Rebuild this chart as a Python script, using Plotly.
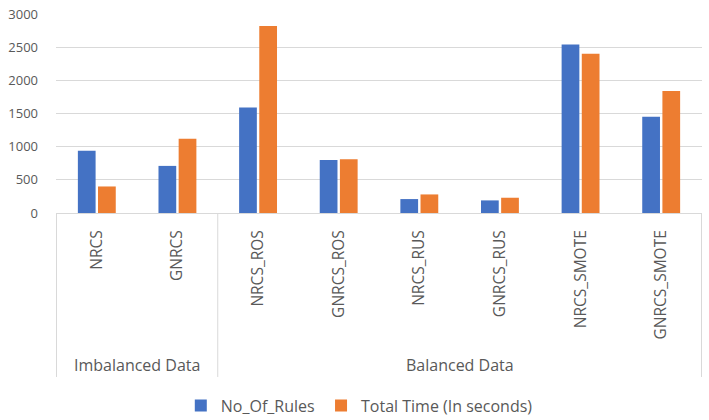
import plotly.graph_objects as go

categories = ["NRCS", "GNRCS", "NRCS_ROS", "GNRCS_ROS", "NRCS_RUS", "GNRCS_RUS", "NRCS_SMOTE", "GNRCS_SMOTE"]
groups = ["Imbalanced Data", "Imbalanced Data", "Balanced Data", "Balanced Data",
          "Balanced Data", "Balanced Data", "Balanced Data", "Balanced Data"]
no_of_rules = [940, 710, 1590, 800, 210, 190, 2540, 1450]
total_time = [400, 1120, 2820, 810, 280, 230, 2400, 1840]
y_ticks = [0, 500, 1000, 1500, 2000, 2500, 3000]

BLUE = "#4472C4"
ORANGE = "#ED7D31"
GRID = "#D9D9D9"
TEXT = "#595959"
FONT = "Open Sans"

fig = go.Figure()
fig.add_trace(go.Bar(x=categories, y=no_of_rules, name="No_Of_Rules", marker_color=BLUE,
                     legend="legend", showlegend=True))
fig.add_trace(go.Bar(x=categories, y=total_time, name="Total Time (In seconds)", marker_color=ORANGE,
                     legend="legend2", showlegend=True))

# group boundaries and labels
bounds = [-0.5]
centers = []
start = 0
for i in range(1, len(groups) + 1):
    if i == len(groups) or groups[i] != groups[i - 1]:
        bounds.append(i - 0.5)
        centers.append(((start + i - 1) / 2, groups[start]))
        start = i

shapes = []
for b in bounds:
    shapes.append(dict(type="line", xref="x", yref="paper", x0=b, x1=b, y0=0, y1=-0.824,
                       line=dict(color=GRID, width=1)))

annotations = []
for c, label in centers:
    annotations.append(dict(x=c, y=-0.764, xref="x", yref="paper", text=label, showarrow=False,
                            font=dict(family=FONT, size=16, color=TEXT), yanchor="middle"))

legend_common = dict(orientation="h", xref="container", xanchor="left", y=-0.968, yanchor="middle",
                     font=dict(family=FONT, size=16, color=TEXT), itemwidth=30,
                     bgcolor="rgba(0,0,0,0)")

fig.update_layout(
    template="none",
    showlegend=True,
    width=709, height=420,
    margin=dict(l=56, r=7, t=14, b=207, autoexpand=False),
    paper_bgcolor="white", plot_bgcolor="white",
    barmode="group", bargap=0.5, bargroupgap=0.12,
    font=dict(family=FONT, size=14, color=TEXT),
    shapes=shapes, annotations=annotations,
    legend=dict(x=0.255, **legend_common),
    legend2=dict(x=0.4528, **legend_common),
    xaxis=dict(type="category", tickangle=-90, showline=True, linecolor=GRID, linewidth=1,
               ticks="", showgrid=False, ticklabelstandoff=10, automargin=False,
               tickfont=dict(family=FONT, size=15.5, color=TEXT)),
    yaxis=dict(range=[0, 3000], tickvals=y_ticks, showgrid=True, gridcolor=GRID, gridwidth=1,
               zeroline=False, showline=False, ticks="", ticklabelstandoff=17, automargin=False,
               tickfont=dict(family=FONT, size=13, color=TEXT)),
)

fig.write_html("out.html", config={"displayModeBar": False},
               post_script="document.body.style.margin='0px';")
